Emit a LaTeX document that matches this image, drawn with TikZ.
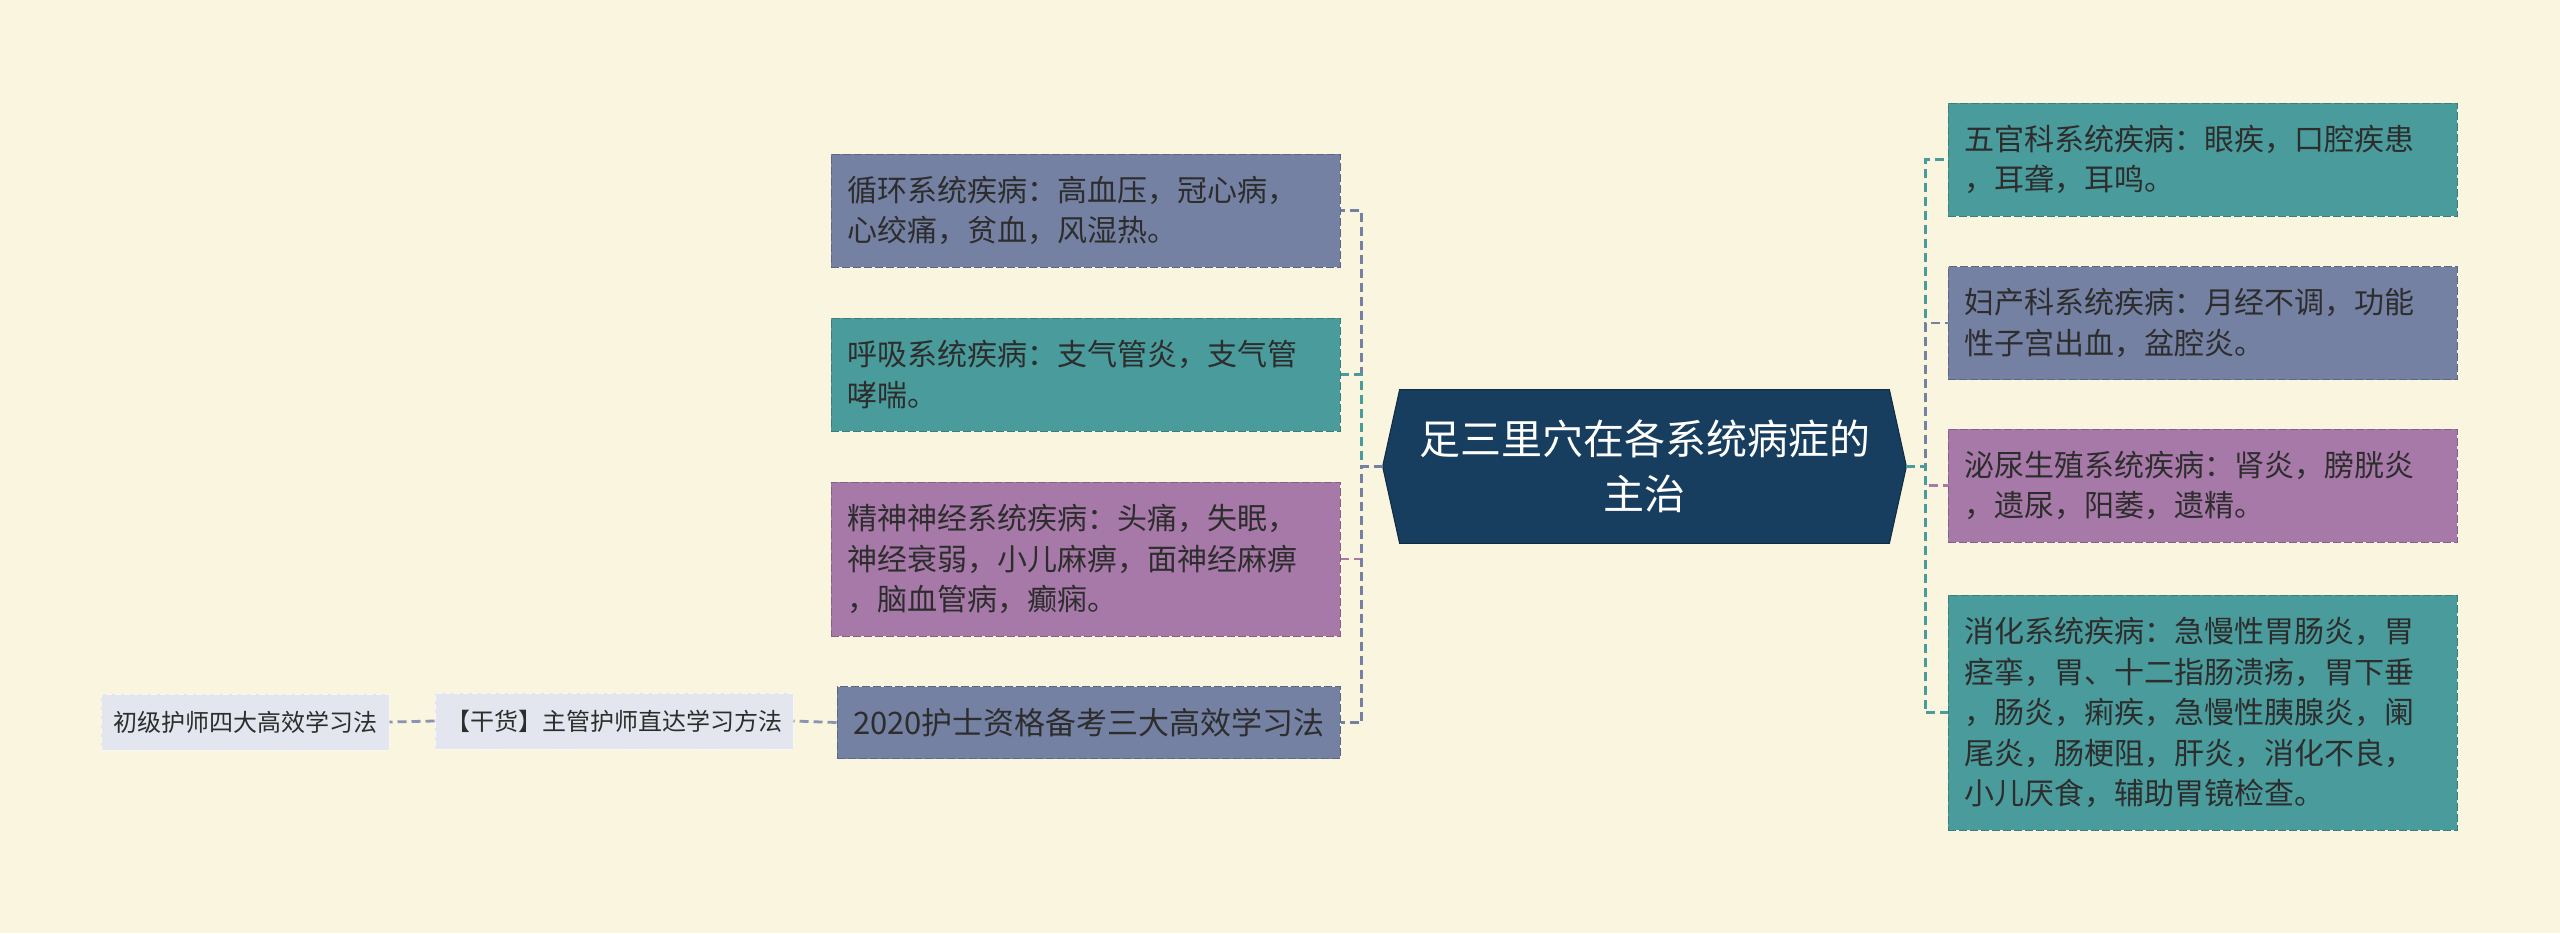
\documentclass[tikz,border=0pt]{standalone}
\usepackage{fontspec}
\newfontfamily\cjk{Noto Sans CJK SC}
\usetikzlibrary{backgrounds}

\definecolor{bgcream}{RGB}{250,245,223}
\definecolor{slatec}{RGB}{117,129,163}
\definecolor{tealc}{RGB}{74,155,155}
\definecolor{purplec}{RGB}{167,121,168}
\definecolor{rootc}{RGB}{23,62,94}
\definecolor{greyc}{RGB}{227,230,238}
\definecolor{inkc}{RGB}{45,45,45}

\begin{document}
\begin{tikzpicture}[x=0.5pt, y=-0.5pt,
    topic/.style={draw=#1!80!black, fill=#1, dash pattern=on 4pt off 1.5pt,
        line width=0.5pt, text=inkc, font=\cjk\fontsize{15}{20.25}\selectfont,
        text width=238.5pt, align=left, inner xsep=8pt, inner ysep=0pt,
        minimum height=56.5pt},
    extra/.style={draw=white!70!greyc, fill=greyc, dash pattern=on 3pt off 1.5pt,
        line width=0.5pt, text=inkc, font=\cjk\fontsize{12}{15}\selectfont,
        inner xsep=0pt, inner ysep=0pt, minimum height=28pt},
    link/.style={draw=#1, dash pattern=on 4.5pt off 2.5pt, line width=1.4pt}]

    \useasboundingbox (0,0) rectangle (2560,933);

    % main topic
    \node[text=white, font=\cjk\fontsize{20.5}{27.5}\selectfont, text width=230pt,
          align=center, inner xsep=7.25pt, minimum height=76.5pt] (root) at (1644.5,466.5)
          {足三里穴在各系统病症的\\主治};
    \coordinate (rootL) at ([xshift=-8.5pt]root.west);
    \coordinate (rootR) at ([xshift=8.5pt]root.east);

    \begin{scope}[on background layer]
        \fill[bgcream] (0,0) rectangle (2560,933);
        \filldraw[fill=rootc, draw=rootc!70!black, line width=0.5pt]
            (rootL) -- (root.north west) -- (root.north east) -- (rootR)
            -- (root.south east) -- (root.south west) -- cycle;
    \end{scope}

    % left side
    \node[topic=slatec] (circ) at (1085.5,210.5) {循环系统疾病：高血压，冠心病，\\心绞痛，贫血，风湿热。};
    \node[topic=tealc] (resp) at (1085.5,374.5) {呼吸系统疾病：支气管炎，支气管\\哮喘。};
    \node[topic=purplec, minimum height=77pt] (nerv) at (1085.5,559)
        {精神神经系统疾病：头痛，失眠，\\神经衰弱，小儿麻痹，面神经麻痹\\，脑血管病，癫痫。};
    \node[topic=slatec, text width=235.5pt, align=center, minimum height=36pt,
          font=\cjk\fontsize{15.5}{20.25}\selectfont] (exam) at (1088.5,722.5)
        {2020护士资格备考三大高效学习法};

    \node[extra, minimum width=179pt] (dry) at (614,721) {【干货】主管护师直达学习方法};
    \node[extra, minimum width=144pt] (junior) at (245,722) {初级护师四大高效学习法};

    % right side
    \node[topic=tealc] (face) at (2202.5,159.5) {五官科系统疾病：眼疾，口腔疾患\\，耳聋，耳鸣。};
    \node[topic=slatec] (gyn) at (2202.5,323) {妇产科系统疾病：月经不调，功能\\性子宫出血，盆腔炎。};
    \node[topic=purplec] (uro) at (2202.5,485.5) {泌尿生殖系统疾病：肾炎，膀胱炎\\，遗尿，阳萎，遗精。};
    \node[topic=tealc, minimum height=117.5pt] (dig) at (2202.5,712.5)
        {消化系统疾病：急慢性胃肠炎，胃\\痉挛，胃、十二指肠溃疡，胃下垂\\，肠炎，痢疾，急慢性胰腺炎，阑\\尾炎，肠梗阻，肝炎，消化不良，\\小儿厌食，辅助胃镜检查。};

    % connectors
    \draw[link=slatec] (rootL) -- ++(-21,0) |- (circ.east);
    \draw[link=tealc] (rootL) -- ++(-21,0) |- (resp.east);
    \draw[link=purplec] (rootL) -- ++(-21,0) |- (nerv.east);
    \draw[link=slatec] (rootL) -- ++(-21,0) |- (exam.east);

    \draw[link=tealc] (rootR) -- ++(19,0) |- (face.west);
    \draw[link=slatec] (rootR) -- ++(19,0) |- (gyn.west);
    \draw[link=purplec] (rootR) -- ++(19,0) |- (uro.west);
    \draw[link=tealc] (rootR) -- ++(19,0) |- (dig.west);

    \draw[link=slatec!85] (exam.west) -- (dry.east);
    \draw[link=slatec!85] (dry.west) -- (junior.east);
\end{tikzpicture}
\end{document}
